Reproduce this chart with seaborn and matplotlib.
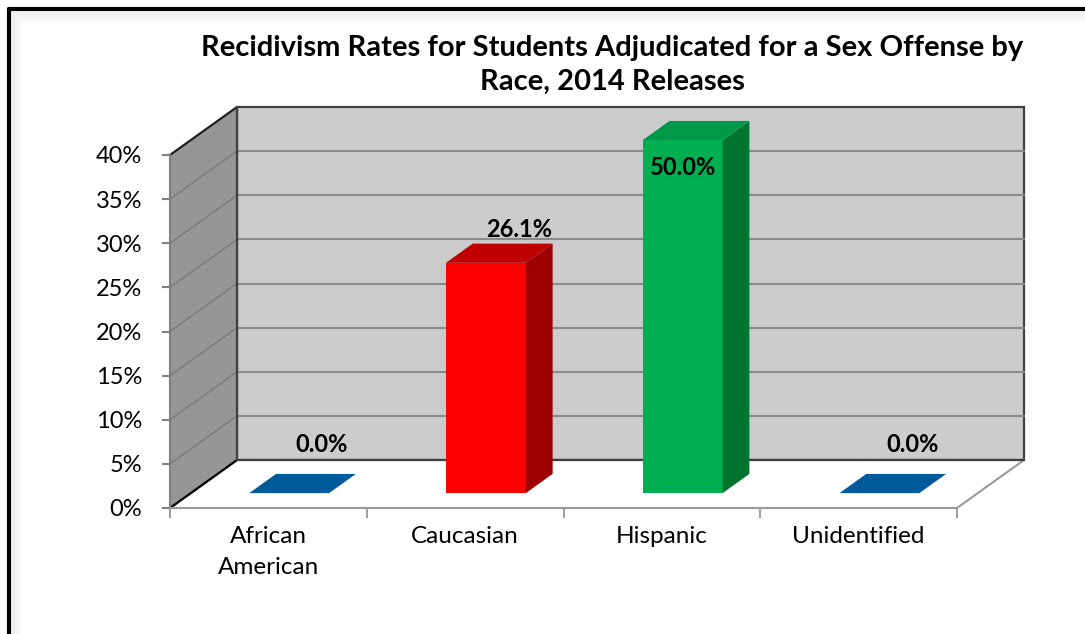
import matplotlib
matplotlib.use("Agg")
import matplotlib.pyplot as plt
import seaborn as sns
import pandas as pd
from matplotlib.patches import Polygon
from matplotlib.lines import Line2D

# ---- data ----
categories = ["African\nAmerican", "Caucasian", "Hispanic", "Unidentified"]
rates = [0.0, 26.1, 50.0, 0.0]
front_colors = ["#005A9C", "#FF0000", "#00B050", "#005A9C"]
side_colors = ["#004A80", "#9E0000", "#00752F", "#004A80"]
top_colors = ["#005A9C", "#C00000", "#00994A", "#005A9C"]
y_ticks = [0, 5, 10, 15, 20, 25, 30, 35, 40]
title = "Recidivism Rates for Students Adjudicated for a Sex Offense by\nRace, 2014 Releases"

YMAX = 40

sns.set_theme(style="white")
plt.rcParams["font.family"] = ["Lato", "DejaVu Sans"]

W, H = 1085, 634
fig = plt.figure(figsize=(W / 100, H / 100), dpi=100)
fig.patch.set_facecolor("white")

# front plane of the 3-D box
ax = fig.add_axes([170 / W, (H - 508) / H, 787 / W, 353 / H])
ax.set_facecolor("none")

# oblique depth offset, expressed in data units
DX = 67 / (787 / 4)
DY = 48 / (353 / YMAX)


def proj(x, y, d):
    return (x + d * DX, y + d * DY)


def poly(pts, **kw):
    p = Polygon(pts, closed=True, clip_on=False, **kw)
    ax.add_patch(p)
    return p


def seg(p0, p1, **kw):
    ax.add_line(Line2D([p0[0], p1[0]], [p0[1], p1[1]], clip_on=False, **kw))


x0, x1 = -0.5, 3.5
grid_c = "#8A8A8A"
edge_c = "#404040"

# back wall
poly([proj(x0, 0, 1), proj(x1, 0, 1), proj(x1, YMAX, 1), proj(x0, YMAX, 1)],
     facecolor="#CCCCCC", edgecolor=edge_c, linewidth=1.6, zorder=0.5)
# left wall
poly([proj(x0, 0, 0), proj(x0, 0, 1), proj(x0, YMAX, 1), proj(x0, YMAX, 0)],
     facecolor="#969696", edgecolor="none", zorder=0.6)
# floor
poly([proj(x0, 0, 0), proj(x1, 0, 0), proj(x1, 0, 1), proj(x0, 0, 1)],
     facecolor="white", edgecolor="#9A9A9A", linewidth=1.5, zorder=0.7)

# gridlines on back and left walls
for t in y_ticks[1:-1]:
    seg(proj(x0, t, 1), proj(x1, t, 1), color=grid_c, lw=1.5, zorder=0.8)
    seg(proj(x0, t, 0), proj(x0, t, 1), color="#7E7E7E", lw=1.2, zorder=0.8)

# wall edges
seg(proj(x0, 0, 0), proj(x0, 0, 1), color="black", lw=1.6, zorder=0.9)
seg(proj(x0, YMAX, 0), proj(x0, YMAX, 1), color="#202020", lw=1.6, zorder=0.9)
seg(proj(x0, 0, 1), proj(x0, YMAX, 1), color=edge_c, lw=1.6, zorder=0.9)
seg(proj(x0, 0, 1), proj(x1, 0, 1), color=edge_c, lw=1.6, zorder=0.9)

# ---- bars ----
df = pd.DataFrame({"race": categories, "rate": rates})
sns.barplot(data=df, x="race", y="rate", hue="race", palette=front_colors,
            saturation=1, width=0.406, legend=False, ax=ax, zorder=3)

D0, D1 = 0.31, 0.71
for p in list(ax.patches):
    if not hasattr(p, "get_height") or p.get_width() > 1:
        continue
    bx0 = p.get_x()
    bw = p.get_width()
    i = int(round(bx0 + bw / 2))
    h = min(p.get_height(), YMAX)
    p.set_x(bx0 + D0 * DX)
    p.set_y(D0 * DY)
    p.set_height(h)
    p.set_edgecolor("none")
    p.set_clip_on(False)
    p.set_zorder(3)
    bx1 = bx0 + bw
    # side face
    if h > 0:
        poly([proj(bx1, 0, D0), proj(bx1, 0, D1), proj(bx1, h, D1), proj(bx1, h, D0)],
             facecolor=side_colors[i], edgecolor="none", zorder=3)
    # top face
    poly([proj(bx0, h, D0), proj(bx1, h, D0), proj(bx1, h, D1), proj(bx0, h, D1)],
         facecolor=top_colors[i], edgecolor="none", zorder=3.1)

# value labels: inside the bar when it runs past the axis, above it otherwise
for i, v in enumerate(rates):
    txt = f"{v:.1f}%"
    if v > YMAX:
        ax.annotate(txt, xy=proj(i, YMAX, D0), xytext=(0, -20), textcoords="offset points",
                    ha="center", va="center", fontsize=17, fontweight="bold",
                    color="black", zorder=5, annotation_clip=False)
    else:
        rise = 11 if v == 0 else 0
        ax.annotate(txt, xy=(i + 0.8 * DX, v + DY), xytext=(0, rise), textcoords="offset points",
                    ha="center", va="center", fontsize=17, fontweight="bold",
                    color="black", zorder=5, annotation_clip=False)

# ---- axes ----
ax.set_xlim(x0, x1)
ax.set_ylim(0, YMAX)
ax.set_yticks(y_ticks)
ax.set_yticklabels([f"{t}%" for t in y_ticks])
ax.set_xticks(range(len(categories)))
ax.set_xticklabels(categories, linespacing=1.6)
ax.set_xticks([x0 + k for k in range(5)], minor=True)
ax.set_xlabel("")
ax.set_ylabel("")
ax.tick_params(axis="y", which="major", left=True, length=6, width=1.5, color="#808080",
               pad=14, labelsize=17, labelcolor="black")
ax.tick_params(axis="x", which="major", bottom=True, length=0, pad=13, labelsize=17.5,
               labelcolor="black")
ax.tick_params(axis="x", which="minor", bottom=True, length=7, width=1.5, color="#A0A0A0")
for s in ["top", "right"]:
    ax.spines[s].set_visible(False)
ax.spines["left"].set_color("#808080")
ax.spines["left"].set_linewidth(1.5)
ax.spines["bottom"].set_color("#9A9A9A")
ax.spines["bottom"].set_linewidth(1.5)
ax.spines["left"].set_zorder(1)
ax.grid(False)

# ---- title ----
fig.text(612 / W, 1 - 65 / H, title, ha="center", va="center", fontsize=21,
         fontweight="bold", color="black", linespacing=1.4)

# ---- frame with soft inner shadow ----
for k in range(12):
    a = 0.10 * (1 - k / 12)
    off = 12 + k
    fig.add_artist(Line2D([off / W, 1], [1 - off / H, 1 - off / H], transform=fig.transFigure,
                          color="#808080", alpha=a, lw=0.8))
    fig.add_artist(Line2D([off / W, off / W], [0, 1 - off / H], transform=fig.transFigure,
                          color="#808080", alpha=a, lw=0.8))
fig.add_artist(Line2D([9 / W, 1], [1 - 9 / H, 1 - 9 / H], transform=fig.transFigure,
                      color="black", lw=3))
fig.add_artist(Line2D([9 / W, 9 / W], [0, 1 - 9 / H], transform=fig.transFigure,
                      color="black", lw=3))

fig.savefig("out.png", dpi=100)
